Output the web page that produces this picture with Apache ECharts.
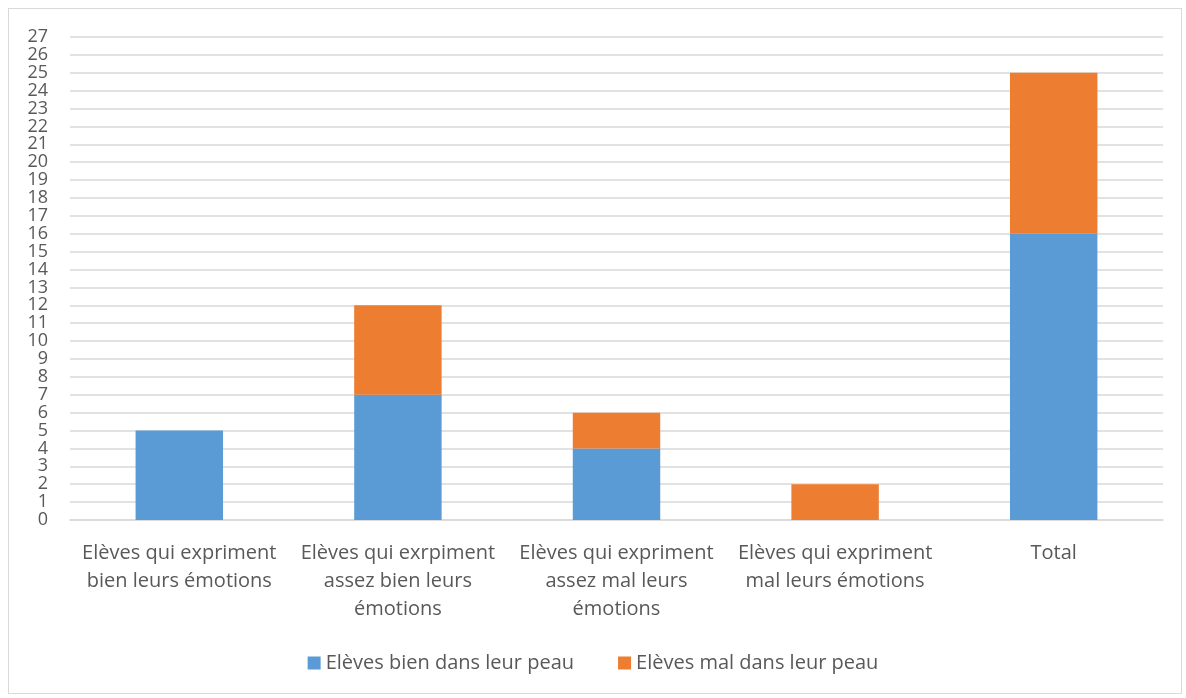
<!DOCTYPE html>
<html><head><meta charset="utf-8">
<script src="https://cdn.jsdelivr.net/npm/echarts@6/dist/echarts.min.js"></script>
<style>
html,body{margin:0;padding:0;background:#fff;}
#frame{position:absolute;left:8px;top:8px;width:1174px;height:686px;border:1px solid #d9d9d9;box-sizing:border-box;}
#c{position:absolute;left:0;top:0;width:1186px;height:698px;}
</style></head><body>
<div id="frame"></div>
<div id="c"></div>
<script>
const categories = [
  "Elèves qui expriment\nbien leurs émotions",
  "Elèves qui exrpiment\nassez bien leurs\némotions",
  "Elèves qui expriment\nassez mal leurs\némotions",
  "Elèves qui expriment\nmal leurs émotions",
  "Total"
];
const bienValues = [5, 7, 4, 0, 16];
const malValues = [0, 5, 2, 2, 9];
const seriesNames = ["Elèves bien dans leur peau", "Elèves mal dans leur peau"];

const chart = echarts.init(document.getElementById('c'));
const font = "'Open Sans', 'Noto Sans', sans-serif";
chart.setOption({
  animation: false,
  textStyle: {fontFamily: font},
  grid: {left: 70, right: 23, top: 37, bottom: 178, containLabel: false},
  legend: {
    bottom: 20, left: 'center', itemWidth: 13, itemHeight: 13, itemGap: 44,
    icon: 'rect',
    textStyle: {fontSize: 20, color: '#595959', fontFamily: font},
    data: seriesNames
  },
  xAxis: {
    type: 'category', data: categories,
    axisLine: {lineStyle: {color: '#d9d9d9', width: 1.5}},
    axisTick: {show: false},
    axisLabel: {fontSize: 20, color: '#595959', lineHeight: 28, margin: 19, interval: 0, fontFamily: font}
  },
  yAxis: {
    type: 'value', min: 0, max: 27, interval: 1,
    axisLine: {show: false}, axisTick: {show: false},
    splitLine: {lineStyle: {color: '#d9d9d9', width: 1.5}},
    axisLabel: {fontSize: 18, lineHeight: 14, color: '#595959', margin: 22, fontFamily: font}
  },
  series: [
    {name: seriesNames[0], type: 'bar', stack: 's', data: bienValues, barWidth: '40%',
     itemStyle: {color: '#5b9bd5'}},
    {name: seriesNames[1], type: 'bar', stack: 's', data: malValues, barWidth: '40%',
     itemStyle: {color: '#ed7d31'}}
  ]
});
</script>
</body></html>
